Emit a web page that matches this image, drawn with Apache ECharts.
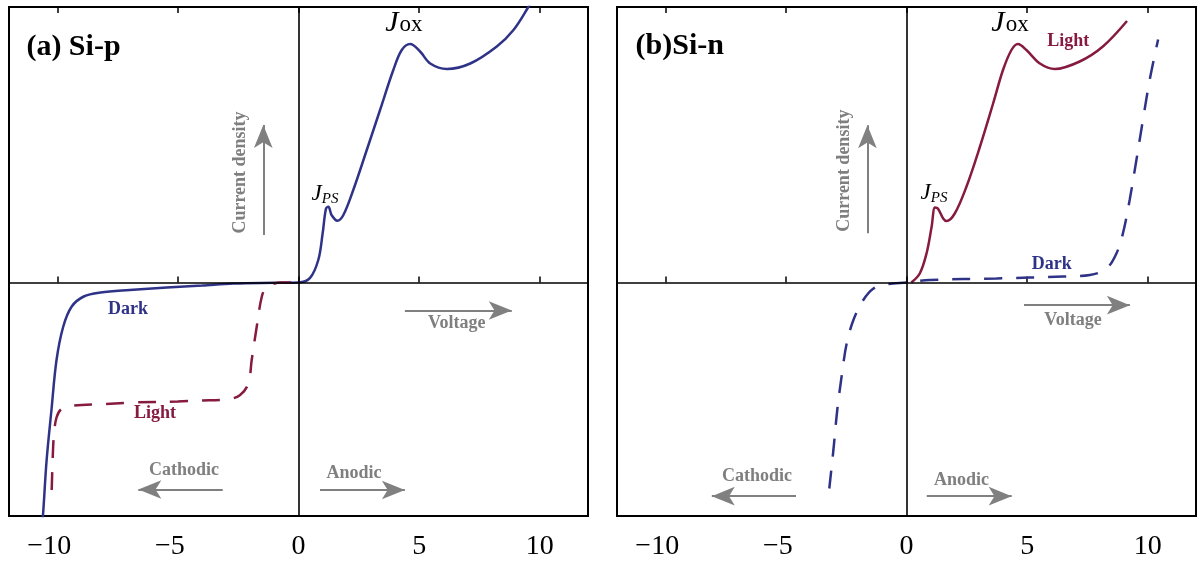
<!DOCTYPE html>
<html>
<head>
<meta charset="utf-8">
<title>Si-p / Si-n current–voltage curves</title>
<script src="https://cdn.jsdelivr.net/npm/echarts@6/dist/echarts.min.js"></script>
<style>
  html, body { margin: 0; padding: 0; background: #fff; }
  #chart { width: 1201px; height: 563px; }
</style>
</head>
<body>
<div id="chart"></div>
<script>
// Tick positions along the voltage axis (both panels)
const ticksX = [-10, -5, 0, 5, 10];

// (a) p-type silicon: dark curve (solid) and illuminated curve (dashed), [voltage, current density]
const darkSiP = [
  [-10.62, -24.0], [-10.58, -22.9], [-10.44, -17.75], [-10.24, -12.75], [-10.03, -7.75],
  [-9.75, -4.4], [-9.4, -2.4], [-8.9, -1.4], [-8.2, -1.0], [-7.0, -0.75], [-5.46, -0.5],
  [-4.0, -0.3], [-2.69, -0.1], [-1.0, -0.03], [0, 0], [0.47, 0.43], [0.82, 2.25],
  [1.0, 4.9], [1.14, 7.4], [1.24, 7.58], [1.37, 6.75], [1.61, 6.18], [1.86, 6.75],
  [2.27, 9.25], [2.83, 13.25], [3.38, 17.25], [3.93, 21.25], [4.28, 23.25], [4.63, 23.85],
  [5.04, 23.1], [5.46, 21.9], [6.15, 21.35], [7.12, 21.9], [8.22, 23.6], [8.91, 25.25],
  [9.54, 27.6], [9.7, 28.3]
];
const lightSiP = [
  [-10.23, -20.75], [-10.18, -17.0], [-10.13, -15.0], [-10.03, -13.5], [-9.85, -12.7],
  [-9.5, -12.35], [-8.0, -12.15], [-6.85, -12.0], [-5.0, -11.9], [-4.08, -11.8],
  [-2.97, -11.7], [-2.42, -11.25], [-2.08, -10.1], [-1.94, -7.75], [-1.73, -4.4],
  [-1.52, -1.4], [-1.32, -0.4], [-1.0, -0.1], [-0.76, 0], [0, 0]
];

// (b) n-type silicon: illuminated curve (solid) and dark curve (dashed)
const lightSiN = [
  [0.2, 0], [0.55, 0.9], [0.83, 2.9], [1.04, 5.55], [1.18, 7.5], [1.3, 7.4],
  [1.52, 6.4], [1.66, 6.15], [2.0, 6.9], [2.48, 9.55], [3.04, 13.55], [3.59, 17.9],
  [4.0, 21.25], [4.35, 23.25], [4.62, 23.85], [4.97, 23.25], [5.53, 21.9], [6.15, 21.35],
  [7.18, 22.1], [8.14, 23.6], [9.14, 26.15]
];
const darkSiN = [
  [-3.2, -20.6], [-3.03, -16.75], [-2.87, -12.75], [-2.69, -9.4], [-2.48, -6.1],
  [-2.2, -3.75], [-1.79, -1.75], [-1.37, -0.6], [-0.9, -0.2], [-0.55, -0.1], [0, 0],
  [0.97, 0.25], [3.73, 0.4], [6.49, 0.6], [7.6, 0.75], [8.29, 1.4], [8.7, 2.9],
  [8.97, 4.9], [9.25, 8.25], [9.53, 12.25], [9.8, 16.25], [10.08, 20.25], [10.43, 24.3]
];

const NAVY = '#2f3388';
const CRIMSON = '#861a40';
const GREY = '#7f7f7f';
const SERIF = '"Liberation Serif", "DejaVu Serif", serif';

const chart = echarts.init(document.getElementById('chart'), null, { renderer: 'canvas' });

function bottomAxis(gridIndex) {
  return {
    type: 'value', gridIndex, position: 'bottom', min: -12, max: 12,
    axisLine: { show: false }, splitLine: { show: false },
    axisTick: { show: true, inside: true, length: 6, customValues: ticksX,
                lineStyle: { color: '#000', width: 1.5 } },
    axisLabel: {
      show: true, customValues: ticksX, margin: 17,
      fontFamily: SERIF, fontSize: 28, color: '#000',
      formatter: v => v < 0 ? '{n|\u2212' + Math.abs(v) + '}' : '{p|' + v + '}',
      rich: {
        n: { fontFamily: SERIF, fontSize: 28, color: '#000', padding: [0, 16, 0, 0] },
        p: { fontFamily: SERIF, fontSize: 28, color: '#000' }
      }
    }
  };
}
function topAxis(gridIndex) {
  return {
    type: 'value', gridIndex, position: 'top', min: -12, max: 12,
    axisLine: { show: false }, splitLine: { show: false }, axisLabel: { show: false },
    axisTick: { show: true, inside: true, length: 6, customValues: ticksX,
                lineStyle: { color: '#000', width: 1.5 } }
  };
}
function yAxis(gridIndex) {
  return { type: 'value', gridIndex, min: -23.35, max: 27.55, show: false, splitLine: { show: false } };
}

function curve(data, axis, color, dashed) {
  return {
    type: 'line', data, xAxisIndex: axis * 2, yAxisIndex: axis,
    smooth: 0.35, symbol: 'none', showSymbol: false, clip: true, z: 3,
    lineStyle: { color, width: 2.5, type: dashed ? [18, 14] : 'solid', cap: 'butt' }
  };
}

// Zero lines crossing each panel
function crossLines(axis) {
  return {
    type: 'line', data: [], xAxisIndex: axis * 2, yAxisIndex: axis, z: 1,
    markLine: {
      silent: true, symbol: 'none', animation: false, label: { show: false },
      lineStyle: { color: '#000', width: 1.6, type: 'solid' },
      data: [{ yAxis: 0 }, { xAxis: 0 }]
    }
  };
}

function textItem(x, y, text, style) {
  return {
    value: [x, y],
    label: Object.assign({ show: true, position: 'inside', formatter: text, opacity: 1,
      fontFamily: SERIF, fontWeight: 'bold', fontSize: 18, color: GREY }, style || {})
  };
}

const jRich = {
  j: { fontFamily: SERIF, fontStyle: 'italic', fontSize: 30, color: '#000', verticalAlign: 'bottom' },
  ox: { fontFamily: SERIF, fontSize: 23, color: '#000', verticalAlign: 'bottom', padding: [0, 0, 2, 1] },
  jp: { fontFamily: SERIF, fontStyle: 'italic', fontSize: 23, color: '#000', verticalAlign: 'top' },
  ps: { fontFamily: SERIF, fontStyle: 'italic', fontSize: 15, color: '#000', verticalAlign: 'bottom', padding: [9, 0, 0, 0] }
};

function annotations(axis, items, arrows) {
  return {
    type: 'scatter', xAxisIndex: axis * 2, yAxisIndex: axis, z: 5,
    symbolSize: 1, itemStyle: { color: 'rgba(0,0,0,0)', opacity: 1 }, silent: true,
    data: items,
    markLine: {
      silent: true, animation: false, symbol: ['none', 'arrow'], symbolSize: [14, 23],
      label: { show: false },
      lineStyle: { color: '#808080', width: 2, type: 'solid', opacity: 1 },
      data: arrows.map(a => [{ coord: a[0] }, { coord: a[1] }])
    }
  };
}

const annoA = annotations(0, [
  textItem(-11.30, 23.55, '(a) Si-p', { fontSize: 30, color: '#000', position: 'right', distance: 0 }),
  textItem(-2.42, 11.0, 'Current density', { rotate: 90 }),
  textItem(4.37, 25.9, '{j|J}{ox|ox}', { rich: jRich, fontWeight: 'normal' }),
  textItem(1.10, 8.8, '{jp|J}{ps|PS}', { rich: jRich, fontWeight: 'normal' }),
  textItem(6.56, -4.08, 'Voltage'),
  textItem(2.30, -19.08, 'Anodic'),
  textItem(-4.75, -18.75, 'Cathodic'),
  textItem(-7.07, -2.65, 'Dark', { color: NAVY }),
  textItem(-5.95, -13.05, 'Light', { color: CRIMSON })
], [
  [[-1.46, 4.75], [-1.46, 15.75]],
  [[4.41, -2.8], [8.84, -2.8]],
  [[0.89, -20.75], [4.41, -20.75]],
  [[-3.14, -20.7], [-6.64, -20.7]]
]);

const annoB = annotations(1, [
  textItem(-11.25, 23.63, '(b)Si-n', { fontSize: 30, color: '#000', position: 'right', distance: 0 }),
  textItem(-2.59, 11.18, 'Current density', { rotate: 90 }),
  textItem(4.29, 25.9, '{j|J}{ox|ox}', { rich: jRich, fontWeight: 'normal' }),
  textItem(1.14, 8.88, '{jp|J}{ps|PS}', { rich: jRich, fontWeight: 'normal' }),
  textItem(6.70, 24.08, 'Light', { color: CRIMSON }),
  textItem(6.02, 1.83, 'Dark', { color: NAVY }),
  textItem(6.90, -3.77, 'Voltage'),
  textItem(2.28, -19.77, 'Anodic'),
  textItem(-6.20, -19.42, 'Cathodic')
], [
  [[-1.62, 4.93], [-1.62, 15.73]],
  [[4.87, -2.27], [9.26, -2.27]],
  [[0.84, -21.37], [4.36, -21.37]],
  [[-4.58, -21.37], [-8.07, -21.37]]
]);

chart.setOption({
  animation: false,
  backgroundColor: '#fff',
  grid: [
    { left: 9, top: 7, width: 579, height: 509, show: true, borderColor: '#000', borderWidth: 2, backgroundColor: 'transparent' },
    { left: 617, top: 7, width: 579, height: 509, show: true, borderColor: '#000', borderWidth: 2, backgroundColor: 'transparent' }
  ],
  xAxis: [bottomAxis(0), topAxis(0), bottomAxis(1), topAxis(1)],
  yAxis: [yAxis(0), yAxis(1)],
  series: [
    crossLines(0), crossLines(1),
    curve(darkSiP, 0, NAVY, false),
    curve(lightSiP, 0, CRIMSON, true),
    curve(lightSiN, 1, CRIMSON, false),
    curve(darkSiN, 1, NAVY, true),
    annoA, annoB
  ]
});
</script>
</body>
</html>
